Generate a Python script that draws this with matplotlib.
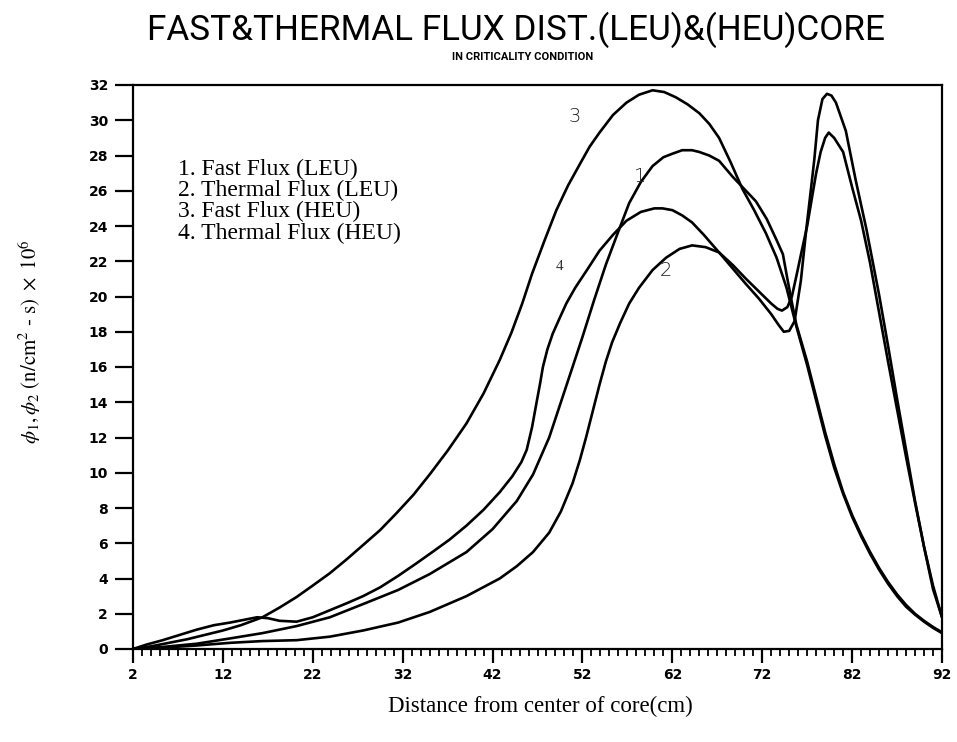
import matplotlib
matplotlib.use("Agg")
import matplotlib.pyplot as plt
from matplotlib.ticker import MultipleLocator, FixedLocator

# ---------------- data ----------------
# 1. Fast Flux (LEU)
x_fast_leu = [2, 4, 6, 9.1, 12.8, 16.4, 20.2, 23.9, 27.6, 31.5, 35, 39.1, 42, 44.7, 46.5,
              48.3, 49.6, 50.9, 52, 53.3, 54.6, 56, 57.2, 58.5, 59.8, 61, 62, 63.1, 64.2,
              65, 66.1, 67.2, 68.7, 70, 71.3, 72.5, 73.6, 74.3, 74.8, 75.4, 75.8, 77, 78,
              79, 80, 81, 82, 83, 84, 85, 86, 87, 88, 89, 90, 91, 92]
y_fast_leu = [0, 0.05, 0.15, 0.3, 0.6, 0.9, 1.3, 1.8, 2.55, 3.35, 4.25, 5.5, 6.8, 8.4, 9.9,
              12.0, 14.0, 16.0, 17.7, 19.8, 21.8, 23.7, 25.3, 26.5, 27.4, 27.9, 28.1, 28.3, 28.3,
              28.2, 28.0, 27.7, 26.8, 26.1, 25.4, 24.4, 23.2, 22.4, 21.0, 19.4, 18.4, 16.3, 14.3,
              12.3, 10.5, 8.9, 7.6, 6.5, 5.5, 4.6, 3.8, 3.1, 2.5, 2.0, 1.6, 1.25, 0.95]

# 2. Thermal Flux (LEU)
x_th_leu = [2, 6, 9.1, 12.8, 16.4, 20.2, 23.9, 27.6, 31.5, 35, 39.1, 42.8, 44.7, 46.5,
            48.3, 49.6, 50.9, 51.7, 52.4, 53.2, 53.9, 54.6, 55.3, 56.2, 57.2, 58.3, 59.8,
            61.3, 62.8, 64.2, 65.7, 67.2, 68.7, 70.2, 71.6, 73, 73.7, 74.2, 74.8, 75.3,
            75.9, 76.4, 77, 77.5, 78, 78.5, 79, 79.4, 80, 81, 82, 83, 84, 85, 86, 87, 88,
            89, 90, 91, 92]
y_th_leu = [0, 0.1, 0.2, 0.35, 0.45, 0.5, 0.7, 1.05, 1.5, 2.1, 3.0, 4.0, 4.7, 5.5,
            6.6, 7.8, 9.4, 10.7, 12.0, 13.6, 15.0, 16.3, 17.4, 18.5, 19.6, 20.5, 21.5,
            22.2, 22.7, 22.9, 22.8, 22.5, 21.8, 21.0, 20.3, 19.6, 19.3, 19.2, 19.4, 20.0,
            21.4, 22.6, 24.0, 25.5, 27.0, 28.2, 29.0, 29.3, 29.0, 28.2, 26.2, 24.3, 21.9,
            19.1, 16.3, 13.6, 10.9, 8.3, 5.8, 3.6, 1.8]

# 3. Fast Flux (HEU)
x_fast_heu = [2, 4, 6, 8, 10, 12, 14, 16.4, 18.3, 20.2, 22, 23.9, 25.8, 27.6, 29.5, 31.3,
              33.2, 35, 37, 39.1, 41, 42.8, 44.1, 45.3, 46.4, 47.8, 49.1, 50.4, 51.7, 52.8,
              53.9, 55.4, 56.9, 58.3, 59.8, 61.1, 62.4, 63.7, 65, 66.1, 67.2, 68.5, 69.8,
              71.1, 72.4, 73.6, 74.7, 75.8, 77, 78, 79, 80, 81, 82, 83, 84, 85, 86, 87, 88,
              89, 90, 91, 92]
y_fast_heu = [0, 0.15, 0.35, 0.55, 0.8, 1.05, 1.35, 1.8, 2.35, 2.95, 3.6, 4.3, 5.1, 5.9, 6.75, 7.7,
              8.75, 9.9, 11.25, 12.8, 14.5, 16.4, 17.95, 19.6, 21.3, 23.2, 24.9, 26.3, 27.5, 28.5,
              29.3, 30.3, 31.0, 31.45, 31.7, 31.6, 31.3, 30.9, 30.4, 29.8, 29.0, 27.6, 26.1,
              24.9, 23.6, 22.2, 20.5, 18.3, 16.1, 14.1, 12.1, 10.3, 8.8, 7.5, 6.4, 5.4, 4.5,
              3.7, 3.0, 2.4, 1.95, 1.55, 1.2, 0.9]

# 4. Thermal Flux (HEU)
x_th_heu = [2, 3.5, 5.3, 7.2, 9.1, 11, 12.8, 14.3, 15.8, 17, 18.3, 20.2, 22, 23.9, 25.8,
            27.6, 29.5, 31.5, 33.5, 35.3, 37.2, 39.1, 41, 42.8, 44.2, 45.2, 45.8, 46.4,
            46.9, 47.3, 47.6, 48.1, 48.7, 49.4, 50.2, 51.2, 52.5, 53.9, 55.4, 56.9, 58.5,
            60, 60.9, 62, 63.1, 64.2, 65.5, 67.2, 68.7, 70.2, 71.6, 73, 73.8, 74.4, 75,
            75.6, 76.3, 76.9, 77.4, 77.8, 78.2, 78.7, 79.2, 79.7, 80.2, 81.3, 82.4, 83.6,
            85, 86, 87, 88, 89, 90, 91, 92]
y_th_heu = [0, 0.25, 0.5, 0.8, 1.1, 1.35, 1.5, 1.65, 1.8, 1.75, 1.6, 1.55, 1.8, 2.2, 2.6,
            3.0, 3.5, 4.15, 4.85, 5.5, 6.2, 7.0, 7.9, 8.9, 9.8, 10.6, 11.3, 12.6,
            14.0, 15.1, 16.0, 17.0, 17.9, 18.7, 19.6, 20.5, 21.5, 22.6, 23.5, 24.3, 24.8,
            25.0, 25.0, 24.9, 24.6, 24.2, 23.5, 22.5, 21.6, 20.7, 19.9, 19.0, 18.4, 18.0, 18.05,
            18.6, 20.9, 23.8, 26.0, 27.8, 30.0, 31.2, 31.5, 31.4, 31.0, 29.4, 26.6, 23.8,
            20.1, 17.2, 14.2, 11.3, 8.4, 5.8, 3.4, 1.8]

legend_lines = ["1. Fast Flux (LEU)", "2. Thermal Flux (LEU)",
                "3. Fast Flux (HEU)", "4. Thermal Flux (HEU)"]
x_ticks = [2, 12, 22, 32, 42, 52, 62, 72, 82, 92]
y_ticks = list(range(0, 33, 2))

# ---------------- figure ----------------
plt.rcParams['mathtext.fontset'] = 'stix'
fig = plt.figure(figsize=(9.57, 7.42), dpi=100)
ax = fig.add_axes([133/957, 1-649/742, (942-133)/957, (649-85)/742])

for xs, ys in [(x_fast_leu, y_fast_leu), (x_th_leu, y_th_leu),
               (x_fast_heu, y_fast_heu), (x_th_heu, y_th_heu)]:
    ax.plot(xs, ys, color='black', lw=1.9, solid_joinstyle='round', solid_capstyle='round')

ax.set_xlim(2, 92)
ax.set_ylim(0, 32)
ax.xaxis.set_major_locator(FixedLocator(x_ticks))
ax.xaxis.set_minor_locator(MultipleLocator(1))
ax.yaxis.set_major_locator(FixedLocator(y_ticks))
ax.tick_params(axis='x', which='major', direction='out', length=10, width=1.6, pad=4)
ax.tick_params(axis='x', which='minor', direction='out', length=5, width=1.3)
ax.tick_params(axis='y', which='major', direction='out', length=13, width=1.6, pad=5)
for s in ax.spines.values():
    s.set_linewidth(1.6)

tick_font = dict(family='DejaVu Sans', weight='bold', size=10)
ax.set_xticklabels([str(t) for t in x_ticks], **tick_font)
ax.set_yticklabels([str(t) for t in y_ticks], **tick_font)

# legend block (plain text)
for i, t in enumerate(legend_lines):
    ax.text(0.0556, 0.851 - i * 0.0378, t, transform=ax.transAxes,
            family='Liberation Serif', size=17, va='center', ha='left')

# curve labels
lab = dict(family='DejaVu Sans', size=14, ha='center', va='center', weight='light', color='#222222')
ax.text(51.1, 30.2, "3", **lab)
ax.text(58.4, 26.8, "1", **lab)
ax.text(61.3, 21.5, "2", **lab)
ax.text(49.4, 21.7, "4", family='Liberation Serif', size=11, ha='center', va='center', color='#333333')

# titles
fig.text(516/957, 1-30/742, "FAST&THERMAL FLUX DIST.(LEU)&(HEU)CORE",
         family='Roboto', weight='normal', size=25.3, ha='center', va='center')
fig.text(523/957, 1-57/742, "IN CRITICALITY CONDITION",
         family='Roboto', weight='bold', size=8, ha='center', va='center')

fig.text(540/957, 1-706/742, "Distance from center of core(cm)",
         family='Liberation Serif', size=16.5, ha='center', va='center')
fig.text(30/957, 1-342/742, r"$\phi_1, \phi_2\ \mathrm{(n/cm^2\ \text{-}\ s)}\ \times\ 10^6$",
         size=15, ha='center', va='center', rotation=90)

fig.savefig("out.png", dpi=100, facecolor='white')
